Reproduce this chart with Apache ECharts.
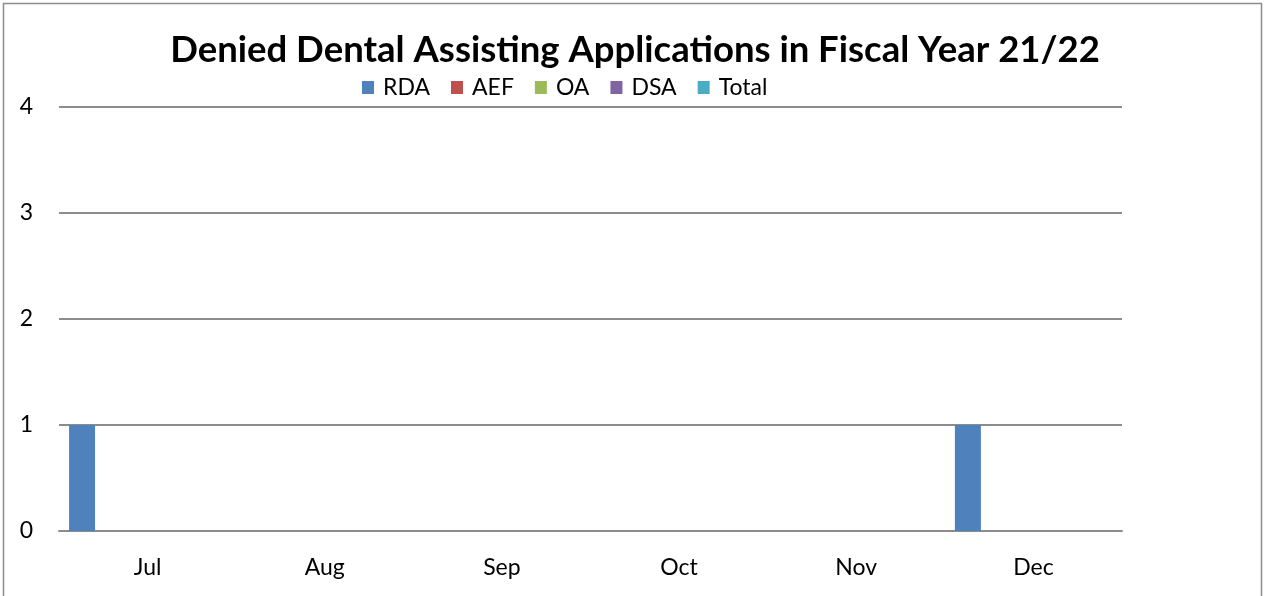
<!DOCTYPE html>
<html><head><meta charset="utf-8">
<script src="https://cdn.jsdelivr.net/npm/echarts@6/dist/echarts.min.js"></script>
<style>html,body{margin:0;padding:0;background:#fff}#c{width:1270px;height:596px}</style>
</head><body><div id="c"></div>
<script>
var categories = ['Jul','Aug','Sep','Oct','Nov','Dec'];
var seriesNames = ['RDA','AEF','OA','DSA','Total'];
var RDA = [1,0,0,0,0,1];
var AEF = [0,0,0,0,0,0];
var OA = [0,0,0,0,0,0];
var DSA = [0,0,0,0,0,0];
var Total = [0,0,0,0,0,0];
var yTicks = [0,1,2,3,4];
var colors = ['#4F81BD','#C0504D','#9BBB59','#8064A2','#4BACC6'];
var values = [RDA, AEF, OA, DSA, Total];

var chart = echarts.init(document.getElementById('c'));
var font = 'Lato, "Open Sans", sans-serif';
chart.setOption({
  animation:false,
  color: colors,
  title:{text:'Denied Dental Assisting Applications in Fiscal Year 21/22', left:'center', top:27,
    textStyle:{fontFamily:font, fontWeight:'bold', fontSize:36.5, color:'#000'}},
  legend:{data:seriesNames, left:357, top:71, itemWidth:12, itemHeight:13, itemGap:21, icon:'rect',
    textStyle:{fontFamily:font, fontSize:23, color:'#000', padding:[0,0,0,4]}},
  grid:{left:59, right:148, top:107, bottom:65, containLabel:false},
  graphic:[{type:'rect', shape:{x:3.5,y:3.5,width:1258,height:620}, style:{fill:'none', stroke:'#8c8c8c', lineWidth:1.5}, silent:true}],
  xAxis:{type:'category', data:categories, axisTick:{show:false},
    axisLine:{show:true, lineStyle:{color:'#8c8c8c', width:2}},
    axisLabel:{fontFamily:font, fontSize:23, color:'#000', margin:25}},
  yAxis:{type:'value', min:yTicks[0], max:yTicks[yTicks.length-1], interval:1,
    axisLine:{show:false}, axisTick:{show:false},
    splitLine:{lineStyle:{color:'#8c8c8c', width:2}},
    axisLabel:{fontFamily:font, fontSize:23, color:'#000', margin:26}},
  series: seriesNames.map(function(n,i){return {name:n, type:'bar', data:values[i], barWidth:26, barGap:'26%'};})
});
</script></body></html>
